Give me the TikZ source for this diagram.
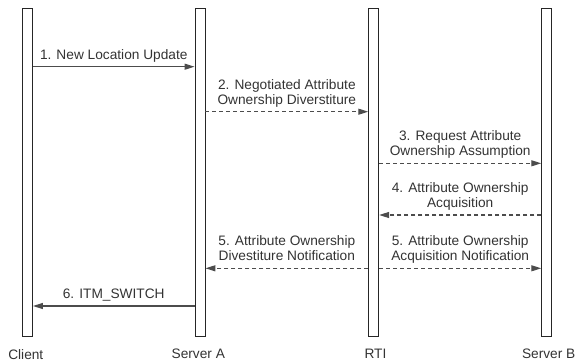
\documentclass[tikz,border=0pt]{standalone}
\usepackage{fontspec}
\setmainfont{Liberation Sans}
\usetikzlibrary{arrows.meta, positioning}
\tikzset{
  lifeline/.style={
    rectangle,
    draw=black!85,
    fill=white,
    line width=0.9pt,
    minimum width=10pt,
    minimum height=328.7pt,
    inner sep=0pt
  },
  actor/.style={
    inner sep=0pt,
    text=black!80,
    font=\fontsize{13.7}{15}\selectfont
  },
  msg/.style={-{Triangle[length=10pt,width=6pt]}, draw=black!70, line width=1.2pt},
  reply/.style={msg, dash pattern=on 4pt off 3pt},
  lbl/.style={
    above=7pt,
    inner sep=0pt,
    text depth=0pt,
    align=center,
    text=black!80,
    font=\fontsize{13.7}{15}\selectfont
  }
}
\begin{document}
\begin{tikzpicture}[x=1pt, y=-1pt, node distance=12pt]
  \useasboundingbox (0,0) rectangle (576,362);

  % lifelines
  \node[lifeline] (client) at (27.5,172.3) {};
  \node[lifeline] (srva) at (200,172.3) {};
  \node[lifeline] (rti) at (373.7,172.3) {};
  \node[lifeline] (srvb) at (546.7,172.3) {};

  \node[actor, below=of client, xshift=-1.7pt] (clientlbl) {Client};
  \node[actor, below=of srva, xshift=-1.7pt] (srvalbl) {Server A};
  \node[actor, below=of rti, xshift=1.8pt] (rtilbl) {RTI};
  \node[actor, below=of srvb, xshift=2pt] (srvblbl) {Server B};

  % messages
  \draw[msg] (client.east |- 0,66.7) -- node[lbl]{1. New Location Update} (srva.west |- 0,66.7);
  \draw[reply] (srva.east |- 0,111.7) -- node[lbl]{2. Negotiated Attribute\\Ownership Diverstiture} (rti.west |- 0,111.7);
  \draw[reply] (rti.east |- 0,163.3) -- node[lbl]{3. Request Attribute\\Ownership Assumption} (srvb.west |- 0,163.3);
  \draw[reply] (srvb.west |- 0,215) -- node[lbl]{4. Attribute Ownership\\Acquisition} (rti.east |- 0,215);
  \draw[reply] (rti.west |- 0,268.3) -- node[lbl]{5. Attribute Ownership\\Divestiture Notification} (srva.east |- 0,268.3);
  \draw[reply] (rti.east |- 0,268.3) -- node[lbl]{5. Attribute Ownership\\Acquisition Notification} (srvb.west |- 0,268.3);
  \draw[msg] (srva.west |- 0,306) -- node[lbl]{6. ITM\_SWITCH} (client.east |- 0,306);
\end{tikzpicture}
\end{document}
